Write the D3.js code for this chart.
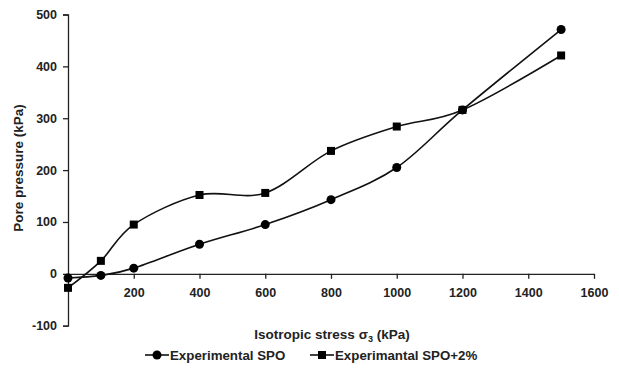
<!DOCTYPE html>
<html><head><meta charset="utf-8">
<script src="https://cdn.jsdelivr.net/npm/d3@7"></script>
<style>body{margin:0;background:#fff}text{font-family:"Liberation Sans",Arial,sans-serif;font-weight:bold;fill:#222}</style>
</head><body>
<svg id="c" width="619" height="378"></svg>
<script>
const stress = [0, 100, 200, 400, 600, 800, 1000, 1200, 1500];
const spo = [-8, -3, 11, 57, 95, 143, 205, 316, 471];
const spo2 = [-27, 25, 95, 152, 156, 237, 284, 316, 421];
const xTicks = [200, 400, 600, 800, 1000, 1200, 1400, 1600];
const yTicks = [-100, 0, 100, 200, 300, 400, 500];
const seriesNames = ["Experimental SPO", "Experimantal SPO+2%"];

const svg = d3.select("#c");
const x = d3.scaleLinear().domain([0, 1600]).range([68, 594]);
const y = d3.scaleLinear().domain([-100, 500]).range([325.7, 14.5]);
const ink = "#222";
const fmt = d => String(d);

// y axis
const gy = svg.append("g").attr("transform", `translate(${x(0)},0)`)
  .call(d3.axisLeft(y).tickValues(yTicks).tickSize(5).tickPadding(6).tickFormat(fmt));
gy.select(".domain").attr("stroke", ink).attr("stroke-width", 1.3);
gy.selectAll(".tick line").attr("stroke", ink).attr("stroke-width", 1.3);
gy.selectAll(".tick text").style("font-size", "12.5px").attr("fill", ink);

// x axis at y=0
const gx = svg.append("g").attr("transform", `translate(0,${y(0)})`)
  .call(d3.axisBottom(x).tickValues(xTicks).tickSize(5).tickPadding(9).tickSizeOuter(0).tickFormat(fmt));
gx.select(".domain").attr("stroke", ink).attr("stroke-width", 1.3);
gx.selectAll(".tick line").attr("stroke", ink).attr("stroke-width", 1.3);
gx.selectAll(".tick text").style("font-size", "12.5px").attr("fill", ink);

const line = d3.line().x(d => x(d[0])).y(d => y(d[1])).curve(d3.curveCatmullRom.alpha(0));
const s1 = stress.map((s, i) => [s, spo[i]]);
const s2 = stress.map((s, i) => [s, spo2[i]]);

[s1, s2].forEach(data => {
  svg.append("path").datum(data).attr("d", line).attr("fill", "none")
    .attr("stroke", "#111").attr("stroke-width", 1.6);
});
svg.selectAll("circle.m").data(s1).join("circle").attr("class", "m")
  .attr("cx", d => x(d[0])).attr("cy", d => y(d[1])).attr("r", 4.5).attr("fill", "#000");
svg.selectAll("rect.m").data(s2).join("rect").attr("class", "m")
  .attr("x", d => x(d[0]) - 4).attr("y", d => y(d[1]) - 4).attr("width", 8).attr("height", 8).attr("fill", "#000");

// axis titles
svg.append("text").attr("x", 332).attr("y", 339).attr("text-anchor", "middle").style("font-size", "13.5px")
  .html('Isotropic stress σ<tspan dy="3" style="font-size:9px">3</tspan><tspan dy="-3"> (kPa)</tspan>');
svg.append("text").attr("transform", "translate(23,168) rotate(-90)").attr("text-anchor", "middle")
  .style("font-size", "13.5px").text("Pore pressure (kPa)");

// legend
const lg = svg.append("g");
const items = [{x: 145, name: seriesNames[0], shape: "c"}, {x: 310, name: seriesNames[1], shape: "s"}];
items.forEach(it => {
  const ly = 355;
  lg.append("line").attr("x1", it.x).attr("x2", it.x + 24).attr("y1", ly).attr("y2", ly)
    .attr("stroke", "#111").attr("stroke-width", 1.6);
  if (it.shape === "c") lg.append("circle").attr("cx", it.x + 12).attr("cy", ly).attr("r", 4.5).attr("fill", "#000");
  else lg.append("rect").attr("x", it.x + 8).attr("y", ly - 4).attr("width", 8).attr("height", 8).attr("fill", "#000");
  lg.append("text").attr("x", it.x + 25).attr("y", ly + 4.5).style("font-size", "13.3px").text(it.name);
});
</script>
</body></html>
